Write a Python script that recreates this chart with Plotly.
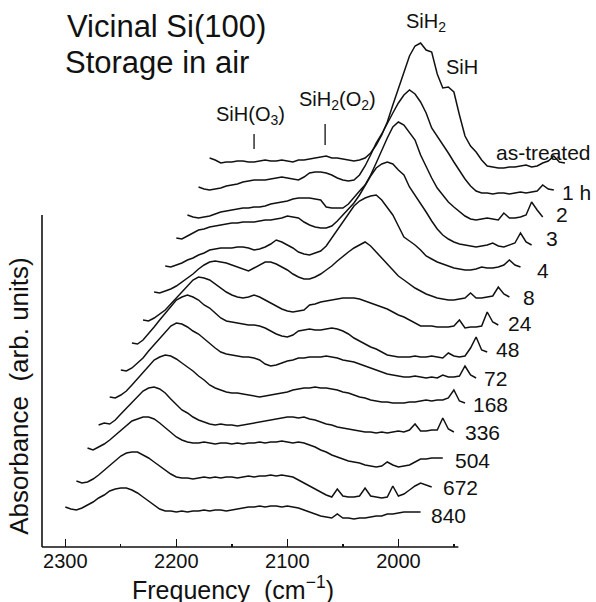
import plotly.graph_objects as go

# ---------------- data ----------------
# common frequency grid of each spectrum (cm^-1)
freq = list(range(2300, 1975, -5))

labels = ["as-treated", "1 h", "2", "3", "4", "8", "24", "48", "72",
          "168", "336", "504", "672", "840"]

# horizontal stacking shift (cm^-1) and vertical stacking offset (arb. units)
shifts = [130, 120, 110, 100, 90, 80, 70, 60, 50, 40, 30, 20, 10, 0]
offsets = [384, 357, 330, 302, 280, 250, 222, 195, 169, 144, 115, 89, 60, 35]

a_as_treated = [
    5, 3, 0, 1, 1, 2, 2, 1, 1, 2,
    3, 2, 2, 3, 2, 1, 3, 3, 4, 5,
    6, 7, 5, 5, 4, 3, 2, 3, 5, 10,
    18, 28, 41, 58, 75, 91, 107, 117, 120, 113,
    111, 89, 75, 76, 71, 48, 27, 17, 11, 3,
    -3, -4, -5, -5, -4, -4, -3, -2, -4, -3,
    0, 2, 7, 1, 0]
a_1h = [
    3, 1, 0, 1, 2, 4, 5, 6, 8, 9,
    10, 10, 10, 11, 12, 13, 12, 11, 10, 13,
    17, 18, 18, 17, 15, 12, 10, 9, 10, 15,
    24, 35, 47, 56, 67, 77, 87, 95, 100, 96,
    88, 77, 62, 54, 46, 37, 28, 19, 11, 4,
    -1, -3, -3, -4, -3, -3, -4, -3, -2, -3,
    -2, -1, 5, 1, 0]
a_2h = [
    2, 0, -1, 0, 1, 3, 5, 6, 7, 8,
    9, 9, 10, 10, 11, 13, 14, 15, 16, 18,
    19, 19, 19, 18, 17, 10, 9, 9, 9, 13,
    20, 26, 32, 42, 54, 67, 79, 90, 95, 92,
    85, 77, 62, 50, 39, 29, 22, 15, 10, 5,
    1, -2, -3, -2, -1, -2, -3, 4, -1, -1,
    0, 2, 15, 7, 0]
a_3h = [
    7, 6, 9, 12, 15, 16, 18, 19, 20, 21,
    22, 22, 23, 23, 23, 24, 25, 25, 26, 27,
    29, 28, 27, 23, 20, 18, 17, 17, 19, 24,
    30, 36, 42, 50, 60, 69, 77, 81, 83, 81,
    75, 70, 58, 50, 42, 33, 24, 16, 10, 6,
    3, 1, 0, -1, -2, -1, 0, 2, -1, -2,
    0, 2, 12, 3, 0]
a_4h = [
    1, 0, 2, 4, 7, 9, 12, 14, 17, 18,
    19, 19, 19, 20, 20, 19, 17, 18, 20, 23,
    27, 25, 22, 19, 15, 13, 12, 14, 16, 21,
    29, 37, 46, 54, 61, 66, 69, 71, 72, 67,
    60, 52, 41, 30, 26, 22, 17, 11, 8, 5,
    3, 1, -1, -2, -3, -3, -2, 0, -1, -1,
    0, 2, 7, 2, 0]
a_8h = [
    5, 4, 6, 8, 11, 15, 19, 23, 28, 32,
    35, 36, 35, 34, 32, 30, 28, 26, 29, 32,
    35, 35, 33, 30, 27, 23, 20, 18, 18, 20,
    23, 27, 31, 36, 41, 45, 49, 52, 55, 51,
    45, 38, 32, 26, 21, 17, 13, 9, 6, 3,
    1, -1, -2, -3, -3, -2, -1, 4, -1, -1,
    0, 1, 10, 3, 0]
a_24h = [
    5, 4, 7, 11, 15, 21, 27, 33, 40, 45,
    48, 47, 45, 41, 37, 33, 30, 28, 27, 28,
    30, 28, 25, 22, 19, 16, 14, 13, 14, 15,
    20, 21, 23, 24, 25, 26, 27, 27, 27, 26,
    24, 22, 20, 18, 16, 13, 10, 8, 5, 2,
    -1, -1, -1, -2, -2, -2, -1, 5, -3, -2,
    -2, -1, 13, 3, 0]
a_48h = [
    9, 8, 12, 18, 25, 32, 39, 46, 52, 55,
    57, 55, 52, 47, 44, 39, 34, 31, 30, 29,
    28, 27, 27, 26, 24, 21, 18, 16, 15, 17,
    21, 22, 23, 22, 22, 23, 24, 23, 21, 18,
    14, 11, 8, 5, 3, 0, -3, -4, -5, -5,
    -5, -4, -5, -5, -4, -5, -6, -1, -4, -5,
    -4, 4, 15, 2, 0]
a_72h = [
    8, 7, 10, 15, 20, 27, 33, 40, 46, 52,
    55, 54, 51, 47, 44, 39, 34, 30, 26, 24,
    23, 22, 21, 21, 20, 18, 14, 12, 13, 15,
    17, 18, 20, 20, 21, 21, 21, 22, 21, 20,
    18, 17, 16, 14, 12, 10, 8, 6, 4, 3,
    2, 1, 1, 2, 1, 0, 1, 0, 3, 1,
    1, 2, 12, 3, 0]
a_168h = [
    6, 5, 8, 12, 18, 24, 31, 37, 43, 46,
    48, 47, 44, 40, 36, 32, 27, 23, 18, 15,
    13, 11, 10, 10, 9, 8, 7, 6, 7, 8,
    9, 10, 11, 13, 14, 15, 15, 16, 15, 15,
    14, 13, 11, 10, 8, 6, 5, 3, 2, 1,
    1, 0, 0, 0, 1, 1, 2, 3, 2, 3,
    3, 5, 13, 2, 0]
a_336h = [
    7, 9, 8, 12, 18, 24, 30, 36, 41, 44,
    45, 43, 39, 33, 27, 22, 19, 15, 12, 10,
    8, 7, 8, 7, 7, 6, 7, 8, 9, 10,
    11, 12, 13, 14, 15, 15, 14, 15, 13, 12,
    10, 8, 7, 5, 4, 3, 2, 1, 0, 0,
    -1, 0, -1, 0, 1, 0, 2, 8, 1, 1,
    2, 2, 14, 3, 0]
a_504h = [
    10, 8, 11, 14, 18, 23, 28, 33, 37, 39,
    41, 41, 39, 35, 30, 26, 21, 18, 16, 15,
    15, 16, 15, 14, 15, 15, 14, 15, 14, 15,
    15, 16, 15, 16, 16, 17, 16, 15, 16, 15,
    13, 11, 8, 6, 3, 1, -1, -3, -4, -5,
    -7, -8, -9, -8, -4, -7, -9, -8, -7, -4,
    -1, -1, 0, 0, 0]
a_672h = [
    6, 4, 5, 8, 12, 17, 22, 26, 31, 34,
    35, 35, 32, 29, 25, 21, 17, 13, 10, 9,
    9, 8, 9, 10, 9, 10, 9, 10, 10, 9,
    10, 11, 10, 11, 11, 12, 11, 12, 11, 10,
    7, 4, 1, -2, -5, -8, -10, -2, -9, -10,
    -10, -9, -1, -9, -10, -11, -10, 1, -9, -7,
    -3, 1, 4, 2, 0]
a_840h = [
    5, 3, 2, 4, 7, 10, 14, 17, 21, 23,
    24, 24, 22, 19, 15, 11, 7, 3, 1, 1,
    0, 1, 0, 1, 1, 2, 1, 2, 2, 1,
    2, 3, 4, 5, 5, 6, 5, 6, 6, 5,
    6, 5, 4, 2, 0, -2, -4, -5, -6, -2,
    -6, -6, -7, -6, -6, -5, -4, -4, -2, -2,
    -1, 0, 0, 0, 0]

spectra = [a_as_treated, a_1h, a_2h, a_3h, a_4h, a_8h, a_24h, a_48h,
           a_72h, a_168h, a_336h, a_504h, a_672h, a_840h]

# assignment markers on the top spectrum (cm^-1, in that spectrum's frame)
marker_names = ["SiH(O<sub>3</sub>)", "SiH<sub>2</sub>(O<sub>2</sub>)"]
marker_freqs = [2260, 2196]
# peak labels on the top spectrum
peak_names = ["SiH<sub>2</sub>", "SiH"]
peak_freqs = [2110, 2085]

x_ticks = [2300, 2200, 2100, 2000]
x_minor = [2250, 2150, 2050, 1950]

# ---------------- styling ----------------
FONT = "Liberation Sans, Arial, Helvetica, sans-serif"
INK = "#111111"
label_dx = [28, 6, 11, 12, 14, 12, 8, 7, 6, 6, 9, 10, 9, 8]
label_dy = [11, -2, 3, 7, -3, 0, 2, 3, 0, -1, 0, -2, 0, -3]

fig = go.Figure()

for k, (lab, sh, off, vals) in enumerate(zip(labels, shifts, offsets, spectra)):
    xs = [f - sh for f in freq[:len(vals)]]
    ys = [off + v for v in vals]
    fig.add_trace(go.Scatter(x=xs, y=ys, mode="lines",
                             line=dict(color=INK, width=1.5),
                             showlegend=False, hoverinfo="skip"))
    fig.add_annotation(x=xs[-1], y=ys[-1] - vals[-1], text=lab,
                       xanchor="right" if k == 0 else "left", yanchor="middle",
                       xshift=label_dx[k], yshift=label_dy[k], showarrow=False,
                       font=dict(family=FONT, size=21, color=INK))

top_shift = shifts[0]
top_off = offsets[0]
tick_lo = [14, 18]
tick_hi = [29, 39]
name_dy = [48, 63]
name_dx = [-4, 12]
for name, mf, lo, hi, ndy, ndx in zip(marker_names, marker_freqs, tick_lo, tick_hi, name_dy, name_dx):
    fig.add_shape(type="line", xref="x", yref="y",
                  x0=mf - top_shift, x1=mf - top_shift,
                  y0=top_off + lo, y1=top_off + hi,
                  line=dict(color=INK, width=1.3))
    fig.add_annotation(x=mf - top_shift, y=top_off + ndy, text=name,
                       xanchor="center", yanchor="middle", xshift=ndx,
                       showarrow=False, font=dict(family=FONT, size=20, color=INK))

peak_dx = [5, 14]
peak_dy = [21, 20]
for name, pf, pdx, pdy in zip(peak_names, peak_freqs, peak_dx, peak_dy):
    idx = freq.index(pf)
    fig.add_annotation(x=pf - top_shift, y=top_off + a_as_treated[idx], text=name,
                       xanchor="center", yanchor="middle", xshift=pdx, yshift=pdy,
                       showarrow=False, font=dict(family=FONT, size=20, color=INK))

# axis lines (bottom axis stops at 1946 cm^-1, left axis is short)
fig.add_shape(type="line", xref="x", yref="paper", x0=2321, x1=1946, y0=0, y1=0,
              line=dict(color=INK, width=1.6))
fig.add_shape(type="line", xref="paper", yref="y", x0=0, x1=0, y0=0, y1=332,
              line=dict(color=INK, width=1.6))

# titles
fig.add_annotation(xref="paper", yref="paper", x=0.041, y=0.951, text="Vicinal Si(100)",
                   xanchor="left", yanchor="middle", showarrow=False,
                   font=dict(family=FONT, size=31, color=INK))
fig.add_annotation(xref="paper", yref="paper", x=0.038, y=0.885, text="Storage in air",
                   xanchor="left", yanchor="middle", showarrow=False,
                   font=dict(family=FONT, size=31, color=INK))
fig.add_annotation(xref="paper", yref="paper", x=0.345, y=-0.075,
                   text="Frequency&nbsp; (cm<sup>−1</sup>)",
                   xanchor="center", yanchor="middle", showarrow=False,
                   font=dict(family=FONT, size=25, color=INK))
fig.add_annotation(xref="paper", yref="paper", x=-0.043, y=0.275,
                   text="Absorbance&nbsp; (arb. units)", textangle=-90,
                   xanchor="center", yanchor="middle", showarrow=False,
                   font=dict(family=FONT, size=26, color=INK))

fig.update_layout(
    width=596, height=602,
    margin=dict(l=42, r=0, t=0, b=55),
    paper_bgcolor="white", plot_bgcolor="white",
    showlegend=False,
    xaxis=dict(range=[2321, 1822], showline=False, showgrid=False, zeroline=False,
               ticks="inside", ticklen=8, tickwidth=1.3, tickcolor=INK,
               tickvals=x_ticks, ticktext=[str(v) for v in x_ticks],
               tickfont=dict(family=FONT, size=20, color=INK),
               minor=dict(tickvals=x_minor, ticks="inside", ticklen=3,
                          tickwidth=1.3, tickcolor=INK, showgrid=False)),
    yaxis=dict(range=[0, 547], visible=False),
)

fig.write_html("out.html",
               config={"displayModeBar": False, "staticPlot": True},
               post_script="document.body.style.margin='0';document.body.style.padding='0';document.body.style.overflow='hidden';")
